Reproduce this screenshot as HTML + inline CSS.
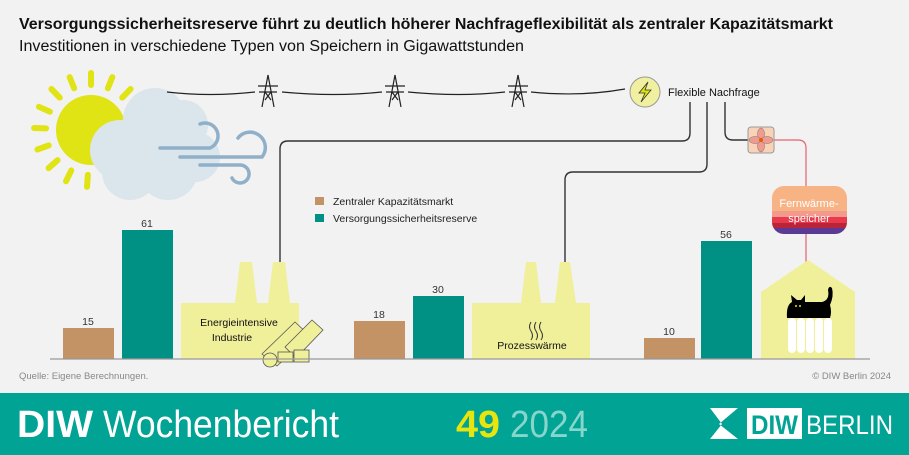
<!DOCTYPE html>
<html><head><meta charset="utf-8"><style>
body{margin:0;width:909px;height:455px;background:#f2f2f2;font-family:"Liberation Sans",sans-serif;overflow:hidden;position:relative}
</style></head><body>
<svg width="909" height="455" viewBox="0 0 909 455" style="position:absolute;left:0;top:0" font-family="Liberation Sans, sans-serif">
<rect width="909" height="455" fill="#f2f2f2"/>
<text x="19" y="29" font-size="15.5" font-weight="bold" fill="#111" textLength="814" lengthAdjust="spacingAndGlyphs">Versorgungssicherheitsreserve führt zu deutlich höherer Nachfrageflexibilität als zentraler Kapazitätsmarkt</text>
<text x="19" y="51" font-size="15.5" fill="#111" textLength="505" lengthAdjust="spacingAndGlyphs">Investitionen in verschiedene Typen von Speichern in Gigawattstunden</text>
<!-- sun -->
<g transform="translate(91,130)" stroke="#e0e314" stroke-width="6" stroke-linecap="round">
<g id="r"><line x1="0" y1="-45" x2="0" y2="-57"/></g>
<use href="#r" transform="rotate(22)"/><use href="#r" transform="rotate(44)"/><use href="#r" transform="rotate(66)"/><use href="#r" transform="rotate(-22)"/><use href="#r" transform="rotate(-44)"/><use href="#r" transform="rotate(-66)"/><use href="#r" transform="rotate(-88)"/><use href="#r" transform="rotate(-110)"/><use href="#r" transform="rotate(-132)"/><use href="#r" transform="rotate(-154)"/><use href="#r" transform="rotate(-176)"/><use href="#r" transform="rotate(160)"/>
</g>
<circle cx="91" cy="130" r="35" fill="#e0e314"/>
<g fill="#dbe5ec">
<circle cx="120" cy="150" r="30"/><circle cx="155" cy="120" r="32"/><circle cx="183" cy="125" r="25"/><circle cx="195" cy="157" r="25"/><circle cx="130" cy="172" r="28"/><circle cx="168" cy="170" r="30"/><circle cx="150" cy="150" r="30"/>
</g>
<g fill="none" stroke="#8fb0c8" stroke-width="3.5" stroke-linecap="round">
<path d="M160 148 H210 A13 13 0 1 0 200 124"/>
<path d="M180 157 H262 A14 14 0 1 0 238 138"/>
<path d="M200 165 H240 A9 9 0 1 1 232 178"/>
</g>
<!-- power line -->
<g fill="none" stroke="#222" stroke-width="1.2">
<path d="M167 92 Q210 97 255 92"/><path d="M282 92 Q335 97 382 92"/><path d="M408 92 Q460 97 505 92"/><path d="M531 92 Q580 97 625 89"/>
<g id="t"><path d="M262 107 L268 75 L274 107 M265 92 L271 100 M271 92 L265 100 M258 86 H278 M259 92 H277"/></g>
<use href="#t" transform="translate(127,0)"/><use href="#t" transform="translate(250,0)"/>
</g>
<circle cx="645" cy="92" r="15" fill="#f0f0a0" stroke="#999" stroke-width="1"/>
<path d="M648 82 L639 93 H645 L641 102 L651 90 H645 Z" fill="#e0e314" stroke="#333" stroke-width="0.8"/>
<text x="668" y="96" font-size="11" fill="#111">Flexible Nachfrage</text>
<!-- connectors -->
<g fill="none" stroke="#333" stroke-width="1.4">
<path d="M690 102 V133 Q690 141 682 141 H288 Q280 141 280 149 V262"/>
<path d="M707 102 V164 Q707 172 699 172 H573 Q565 172 565 180 V262"/>
<path d="M725 102 V132 Q725 140 733 140 H748"/>
</g>
<path d="M774 140 H798 Q806 140 806 148 V287 Q806 289 800 289 H783 Q780 289 780 295 V348 H790" fill="none" stroke="#e8616a" stroke-width="1.2"/>
<rect x="748" y="127" width="26" height="26" rx="3" fill="#f8d3b8" stroke="#999"/>
<g fill="#f09a90" stroke="#777" stroke-width="0.5"><ellipse cx="761" cy="134" rx="3.5" ry="6"/><ellipse cx="761" cy="146" rx="3.5" ry="6"/><ellipse cx="755" cy="140" rx="6" ry="3.5"/><ellipse cx="767" cy="140" rx="6" ry="3.5"/></g>
<circle cx="761" cy="140" r="2" fill="#e06000"/>
<clipPath id="fw"><rect x="772" y="186" width="75" height="48" rx="12"/></clipPath>
<g clip-path="url(#fw)">
<rect x="772" y="186" width="75" height="48" fill="#f8b385"/>
<rect x="772" y="211" width="75" height="6" fill="#f39a8e"/>
<rect x="772" y="217" width="75" height="6" fill="#e9394a"/>
<rect x="772" y="223" width="75" height="5" fill="#b8253a"/>
<rect x="772" y="228" width="75" height="6" fill="#5b3a95"/>
</g>
<text x="809" y="207" font-size="11" fill="#fff" text-anchor="middle">Fernwärme-</text>
<text x="809" y="222" font-size="11" fill="#fff" text-anchor="middle">speicher</text>
<!-- legend -->
<rect x="315" y="197" width="9" height="8" fill="#c39265"/>
<rect x="315" y="214" width="9" height="8" fill="#009184"/>
<text x="333" y="205" font-size="10.5" fill="#222">Zentraler Kapazitätsmarkt</text>
<text x="333" y="222" font-size="10.5" fill="#222">Versorgungssicherheitsreserve</text>
<!-- factories -->
<g fill="#f0ef9a">
<rect x="181" y="303" width="118" height="56"/>
<path d="M235 303 L240 262 H252 L257 303Z M268 303 L273 262 H285 L290 303Z"/>
<rect x="472" y="303" width="118" height="56"/>
<path d="M521 303 L526 262 H536 L541 303Z M555 303 L560 262 H570 L576 303Z"/>
<path d="M761 292 L808 260 L855 292 V359 H761Z"/>
</g>
<text x="239" y="326" font-size="10.5" fill="#111" text-anchor="middle">Energieintensive</text>
<text x="232" y="341" font-size="10.5" fill="#111" text-anchor="middle">Industrie</text>
<g fill="#f0ef9a" stroke="#555" stroke-width="0.8">
<path d="M262 354 L295 322 L310 336 L277 366Z"/><circle cx="270" cy="360" r="7"/>
<path d="M285 347 L312 320 L323 330 L296 358Z"/>
<rect x="278" y="352" width="15" height="10"/><rect x="294" y="350" width="15" height="12"/>
</g>
<path d="M531 322 q-3 5 0 9 q3 5 0 9 M536 322 q-3 5 0 9 q3 5 0 9 M541 322 q-3 5 0 9 q3 5 0 9" fill="none" stroke="#333" stroke-width="1"/>
<text x="532" y="349" font-size="10.5" fill="#111" text-anchor="middle">Prozesswärme</text>
<!-- radiator + cat -->
<g fill="#fff"><rect x="788" y="318" width="8" height="35" rx="4"/><rect x="797" y="318" width="8" height="35" rx="4"/><rect x="806" y="318" width="8" height="35" rx="4"/><rect x="815" y="318" width="8" height="35" rx="4"/><rect x="824" y="318" width="8" height="35" rx="4"/></g>
<path d="M787 318 Q786 305 792 302 L791 295 L797 300 H801 L805 295 L805 302 H822 Q830 300 828 290 Q829 285 832 288 Q834 296 830 305 Q832 312 830 318Z" fill="#000"/>
<circle cx="796" cy="306" r="1" fill="#e0e314"/><circle cx="800" cy="306" r="1" fill="#e0e314"/>
<!-- bars -->
<g fill="#c39265"><rect x="63" y="328" width="51" height="31"/><rect x="354" y="321" width="51" height="38"/><rect x="644" y="338" width="51" height="21"/></g>
<g fill="#009184"><rect x="122" y="230" width="51" height="129"/><rect x="413" y="296" width="51" height="63"/><rect x="701" y="241" width="51" height="118"/></g>
<g font-size="10.5" fill="#333" text-anchor="middle">
<text x="88" y="325">15</text><text x="147" y="227">61</text><text x="379" y="318">18</text><text x="438" y="293">30</text><text x="669" y="335">10</text><text x="726" y="238">56</text>
</g>
<line x1="50" y1="359" x2="870" y2="359" stroke="#999" stroke-width="1.2"/>
<text x="19" y="379" font-size="9.5" fill="#888">Quelle: Eigene Berechnungen.</text>
<text x="891" y="379" font-size="9.5" fill="#888" text-anchor="end">© DIW Berlin 2024</text>
<!-- banner -->
<rect x="0" y="393" width="909" height="62" fill="#00a394"/>
<text x="17" y="437" font-size="38" font-weight="bold" fill="#fff" textLength="76" lengthAdjust="spacingAndGlyphs">DIW</text>
<text x="103" y="437" font-size="38" fill="#fff" textLength="236" lengthAdjust="spacingAndGlyphs">Wochenbericht</text>
<text x="456" y="437" font-size="38" font-weight="bold" fill="#e8e40e" textLength="44" lengthAdjust="spacingAndGlyphs">49</text>
<text x="510" y="437" font-size="38" fill="#86d6cc" textLength="78" lengthAdjust="spacingAndGlyphs">2024</text>
<path d="M710 408 H738 L719 424 L738 439 H710 L722 424Z" fill="#fff"/>
<rect x="747" y="408" width="55" height="31" fill="#fff"/>
<text x="751" y="434" font-size="27" font-weight="bold" fill="#00a394" textLength="47" lengthAdjust="spacingAndGlyphs">DIW</text>
<text x="806" y="434" font-size="27" fill="#fff" textLength="87" lengthAdjust="spacingAndGlyphs">BERLIN</text>
</svg>
</body></html>
